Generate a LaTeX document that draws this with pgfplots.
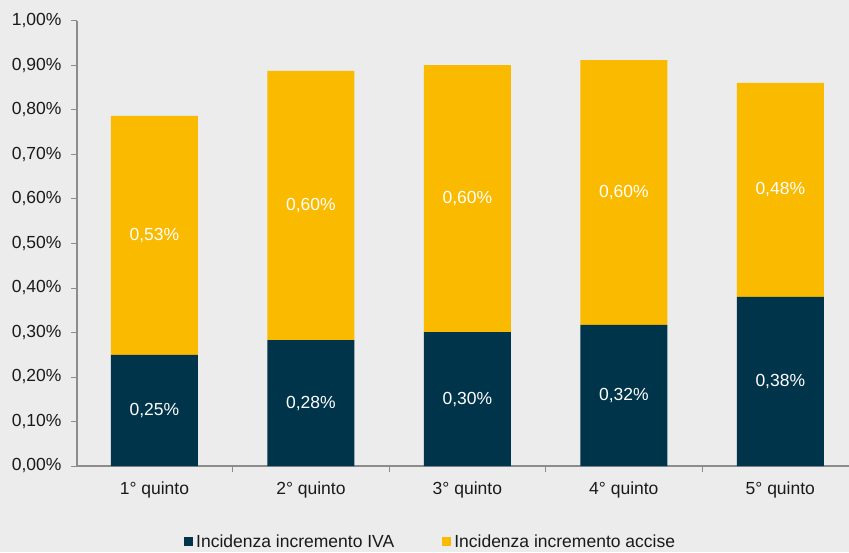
\documentclass[border=0pt]{standalone}
\usepackage{pgfplots}
\pgfplotsset{compat=1.18}
\usepackage{pgfplotstable}
\usepackage{fontspec}
\setmainfont{Liberation Sans}
\definecolor{bg}{HTML}{EBECEB}
\definecolor{navy}{HTML}{00344B}
\definecolor{gold}{HTML}{F9BA00}
\definecolor{axgray}{HTML}{8C8C8C}
\definecolor{txt}{HTML}{1A1A1A}
\newcommand{\chartfont}{\fontsize{17.5}{20}\selectfont}

\pgfplotstableread{
x iva ivalab acc acclab
0 0.250 0,25 0.537 0,53
1 0.283 0,28 0.605 0,60
2 0.301 0,30 0.600 0,60
3 0.317 0,32 0.595 0,60
4 0.380 0,38 0.481 0,48
}\data

\pgfplotsset{common/.style={
  at={(0pt,0pt)}, anchor=south west,
  scale only axis, width=772pt, height=445pt,
  xmin=-0.495, xmax=4.439, ymin=0, ymax=1}}

\begin{document}
\begin{tikzpicture}
\fill[bg] (-77pt,-86pt) rectangle (772pt,466pt);
\useasboundingbox (-77pt,-86pt) rectangle (772pt,466pt);
\begin{axis}[
  common,
  ybar stacked, bar width=87pt,
  axis x line*=bottom, axis y line*=left,
  axis line style={axgray, line width=1.3pt},
  tick align=outside,
  ytick={0,0.1,0.2,0.3,0.4,0.5,0.6,0.7,0.8,0.9,1.0},
  yticklabel={\pgfmathprintnumber{\tick}\%},
  /pgf/number format/.cd, fixed, fixed zerofill, precision=2, use comma, assume math mode=true,
  /pgfplots/.cd,
  major tick length=6pt,
  y tick style={axgray, line width=1pt},
  xtick={0,1,2,3,4},
  xticklabels={1° quinto,2° quinto,3° quinto,4° quinto,5° quinto},
  major x tick style={draw=none},
  minor xtick={-0.5,0.5,1.5,2.5,3.5},
  minor x tick style={axgray, line width=1pt},
  minor tick length=6pt,
  tick label style={font=\chartfont, text=txt},
  yticklabel style={xshift=-6pt},
  xticklabel style={yshift=-6pt},
  legend columns=2,
  legend style={at={(0.1386,-0.1705)}, anchor=west, draw=none, fill=none,
    inner sep=0pt, font=\chartfont, text=txt,
    /tikz/every even column/.append style={column sep=45pt},
    nodes={inner sep=3pt}},
  legend image code/.code={\fill[#1] (0pt,-4.5pt) rectangle (9pt,4.5pt);},
]
\addplot[fill=navy, draw=none]
  table[x=x, y=iva] {\data};
\addlegendentry{Incidenza incremento IVA}
\addplot[fill=gold, draw=none]
  table[x=x, y=acc] {\data};
\addlegendentry{Incidenza incremento accise}
\end{axis}
\begin{axis}[
  common, hide axis, clip=false,
  nodes near coords={\pgfplotspointmeta\%},
  point meta=explicit symbolic,
  every node near coord/.append style={font=\chartfont, text=white, anchor=center},
]
\addplot[draw=none, mark=none] table[x=x, y expr=\thisrow{iva}/2, meta=ivalab] {\data};
\addplot[draw=none, mark=none] table[x=x, y expr=\thisrow{iva}+\thisrow{acc}/2, meta=acclab] {\data};
\end{axis}
\end{tikzpicture}
\end{document}
